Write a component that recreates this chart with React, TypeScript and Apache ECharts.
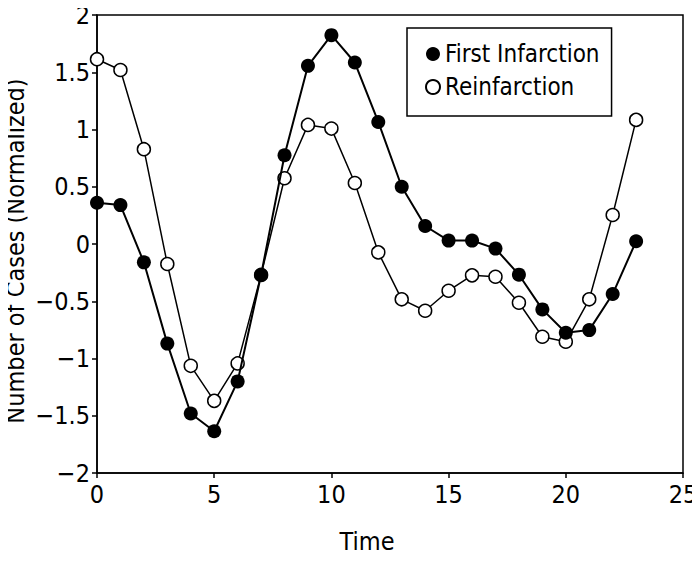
import { useEffect, useRef } from 'react';
import * as echarts from 'echarts';

const timePoints = [0, 1, 2, 3, 4, 5, 6, 7, 8, 9, 10, 11, 12, 13, 14, 15, 16, 17, 18, 19, 20, 21, 22, 23];

const firstInfarction = [
  0.36, 0.34, -0.16, -0.87, -1.48, -1.635, -1.2, -0.27, 0.775, 1.556, 1.824, 1.585,
  1.066, 0.5, 0.157, 0.03, 0.03, -0.04, -0.268, -0.571, -0.775, -0.752, -0.437, 0.024,
];

const reinfarction = [
  1.614, 1.52, 0.828, -0.175, -1.064, -1.37, -1.043, -0.27, 0.574, 1.04, 1.008, 0.533,
  -0.073, -0.483, -0.583, -0.408, -0.274, -0.286, -0.513, -0.81, -0.854, -0.483, 0.253, 1.084,
];

const seriesNames = ['First Infarction', 'Reinfarction'];

const FONT = '"Liberation Sans Narrow", "DejaVu Sans Condensed", "Noto Sans", sans-serif';

export default function App() {
  const chartRef = useRef<HTMLDivElement>(null);

  useEffect(() => {
    if (!chartRef.current) return;
    const chart = echarts.init(chartRef.current, undefined, { renderer: 'svg' });

    const option: echarts.EChartsOption = {
      animation: false,
      backgroundColor: '#ffffff',
      textStyle: { fontFamily: FONT, color: '#000' },
      grid: {
        left: 97,
        right: 17,
        top: 15,
        bottom: 91,
        outerBoundsMode: 'none',
        show: true,
        borderColor: '#000',
        borderWidth: 1.5,
      } as any,
      legend: {
        data: seriesNames,
        orient: 'vertical',
        left: 407,
        top: 28,
        padding: [14, 12, 17, 18],
        itemGap: 9,
        itemWidth: 14,
        itemHeight: 14,
        borderColor: '#000',
        borderWidth: 1.5,
        icon: 'circle',
        textStyle: { fontFamily: FONT, fontSize: 24, color: '#000' },
      },
      xAxis: {
        type: 'value',
        min: 0,
        max: 25,
        interval: 5,
        name: 'Time',
        nameLocation: 'middle',
        nameGap: 56,
        nameMoveOverlap: false,
        nameTextStyle: { fontFamily: FONT, fontSize: 25, color: '#000', padding: [0, 46, 0, 0] },
        axisLine: { onZero: false, lineStyle: { color: '#000', width: 1.5 } },
        axisTick: { length: 5, lineStyle: { color: '#000', width: 1.5 } },
        axisLabel: { fontFamily: FONT, fontSize: 25, color: '#000', margin: 9 },
        splitLine: { show: false },
      } as any,
      yAxis: {
        type: 'value',
        min: -2,
        max: 2,
        interval: 0.5,
        name: 'Number of Cases (Normalized)',
        nameLocation: 'middle',
        nameGap: 69,
        nameMoveOverlap: false,
        nameTextStyle: { fontFamily: FONT, fontSize: 25, color: '#000', padding: [0, 14, 0, 0] },
        axisLine: { show: true, onZero: false, lineStyle: { color: '#000', width: 1.5 } },
        axisTick: { show: true, length: 5, lineStyle: { color: '#000', width: 1.5 } },
        axisLabel: {
          fontFamily: FONT,
          fontSize: 25,
          color: '#000',
          margin: 7,
          formatter: (v: number) => String(v).replace('-', '\u2212'),
        },
        splitLine: { show: false },
      } as any,
      series: [
        {
          name: seriesNames[0],
          type: 'line',
          z: 3,
          data: timePoints.map((t, i) => [t, firstInfarction[i]]),
          symbol: 'circle',
          symbolSize: 14,
          itemStyle: { color: '#000' },
          lineStyle: { color: '#000', width: 2 },
        },
        {
          name: seriesNames[1],
          type: 'line',
          z: 2,
          data: timePoints.map((t, i) => [t, reinfarction[i]]),
          symbol: 'circle',
          symbolSize: 13,
          itemStyle: { color: '#fff', borderColor: '#000', borderWidth: 1.5 },
          lineStyle: { color: '#000', width: 1.5 },
        },
      ],
    };

    chart.setOption(option);
    return () => chart.dispose();
  }, []);

  return <div ref={chartRef} style={{ width: 700, height: 564, margin: -8 }} />;
}
